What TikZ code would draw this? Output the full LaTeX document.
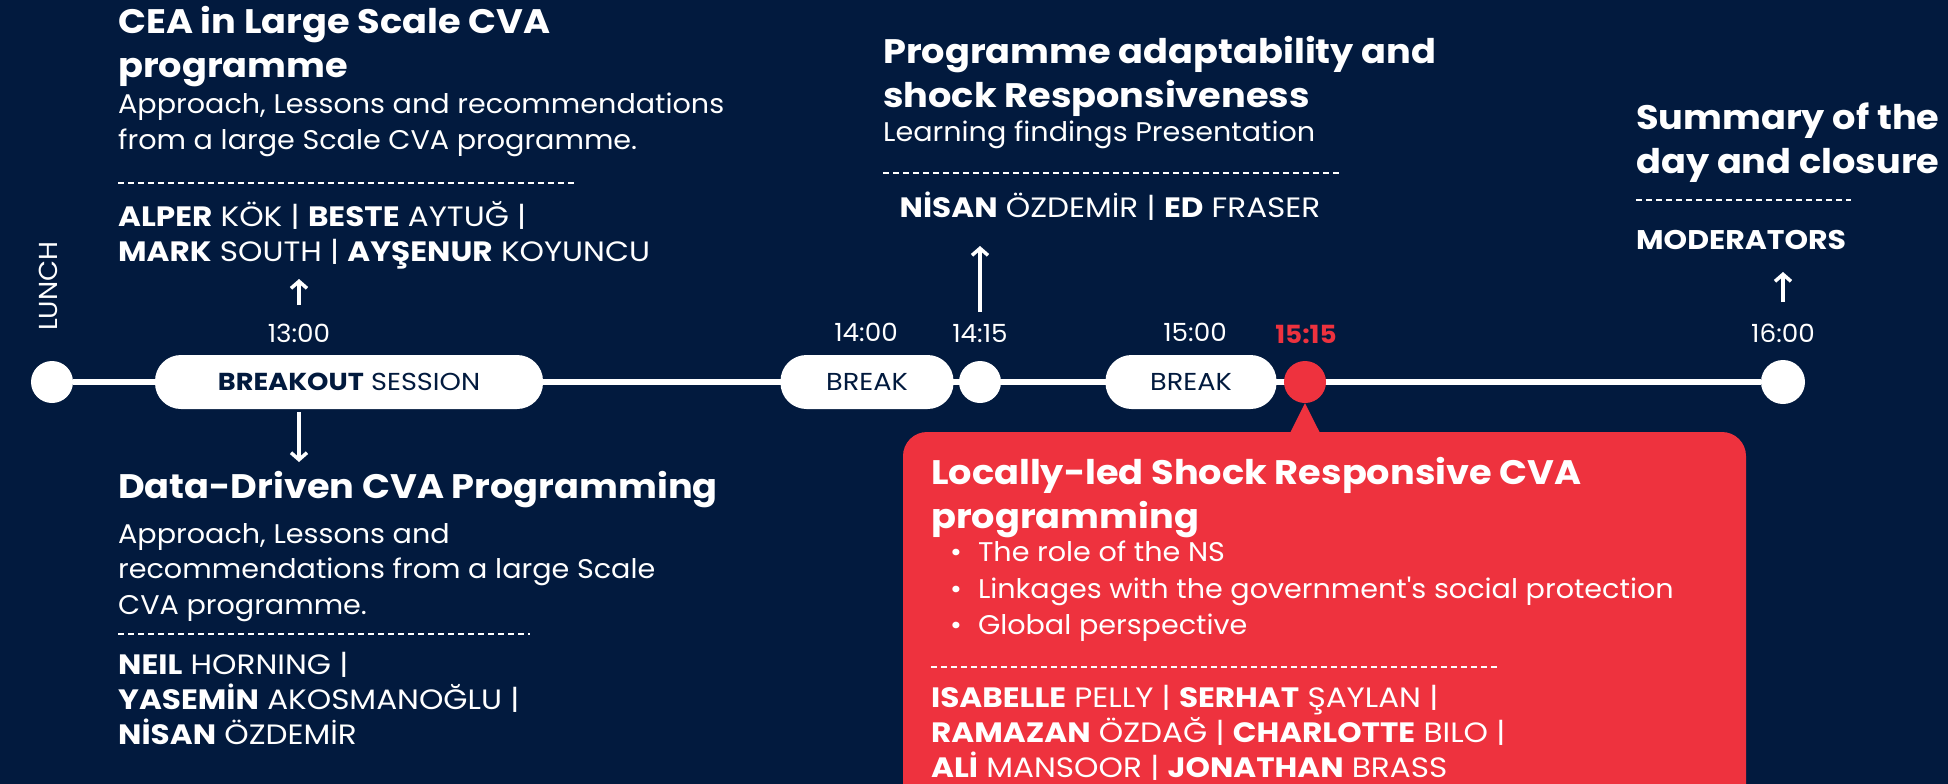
\documentclass[tikz,border=0pt]{standalone}
\usepackage{fontspec}
\setmainfont{Poppins}
\newfontfamily\fttl{Poppins}[FakeStretch=1.08]
\newfontfamily\fbdy{Poppins}[FakeStretch=1.06]
\newfontfamily\fnm{Poppins}[FakeStretch=1.11]
\newfontfamily\ftm{Poppins}[FakeStretch=1.05]
\usetikzlibrary{arrows.meta}
\definecolor{navy}{RGB}{2,26,62}
\definecolor{redbox}{RGB}{238,50,62}
\tikzset{
  txt/.style={anchor=north west, inner sep=0pt, text=white, align=left},
  ttl/.style={txt, font=\fttl\fontsize{34}{44}\selectfont\bfseries},
  bdy/.style={txt, font=\fbdy\fontsize{27}{35.5}\selectfont},
  nms/.style={txt, font=\fnm\fontsize{28}{35}\selectfont},
  tm/.style={inner sep=0pt, text=white, font=\ftm\fontsize{25}{28}\selectfont},
  pill/.style={draw=none, fill=white, rounded corners=26pt, minimum height=54pt, inner sep=0pt, text=navy, font=\fnm\fontsize{24.5}{28}\selectfont},
  dot/.style={circle, fill=white, minimum size=42pt, inner sep=0pt},
  sep/.style={draw=white, line width=1.6pt, dash pattern=on 6pt off 4pt},
  upar/.style={draw=white, line width=3.5pt, -{Straight Barb[length=7pt,width=16pt]}},
  tl/.style={draw=white, line width=6pt}
}
\begin{document}
\begin{tikzpicture}[x=1pt,y=-1pt]
\fill[navy] (0,0) rectangle (1948,784);
\useasboundingbox (0,0) rectangle (1948,784);

% timeline
\node[dot] (lunch) at (52,382) {};
\node[dot, minimum size=44pt] (end) at (1783,382) {};
\draw[tl] (lunch) -- (end);
\node[pill, minimum width=388pt] (breakout) at (349,382) {\textbf{BREAKOUT} SESSION};
\node[pill, minimum width=173pt] (break1) at (867,382) {BREAK};
\node[dot] (d1415) at (980,382) {};
\node[pill, minimum width=171pt] (break2) at (1191,382) {BREAK};
\node[dot, fill=redbox] (red) at (1305,382) {};

\node[txt, rotate=90, anchor=north west, font=\ftm\fontsize{26}{28}\selectfont] (lunchlbl) at (39,331) {LUNCH};

% times
\node[tm] (t1300) at (299,333) {13:00};
\node[tm] (t1400) at (866,332) {14:00};
\node[tm] (t1415) at (980,334) {14:15};
\node[tm] (t1500) at (1195,332) {15:00};
\node[tm, text=redbox] (t1515) at (1306,334) {\textbf{15:15}};
\node[tm] (t1600) at (1783,333) {16:00};

% block 1
\node[ttl] (cea) at (118,6) {CEA in Large Scale CVA\\programme};
\node[bdy] (ceab) at (118,93) {Approach, Lessons and recommendations\\from a large Scale CVA programme.};
\coordinate (s1a) at (118,183); \coordinate (s1b) at (575,183);
\draw[sep] (s1a) -- (s1b);
\node[nms] (cean) at (118,201) {\textbf{ALPER} KÖK | \textbf{BESTE} AYTUĞ |\\\textbf{MARK} SOUTH | \textbf{AYŞENUR} KOYUNCU};
\coordinate (a1bot) at (299,305); \coordinate (a1top) at (299,279);
\draw[upar] (a1bot) -- (a1top);

% block 2 (down)
\coordinate (a2top) at (299,412); \coordinate (a2bot) at (299,462);
\draw[upar] (a2top) -- (a2bot);
\node[ttl] (ddc) at (118,471) {Data-Driven CVA Programming};
\node[bdy] (ddcb) at (118,523) {Approach, Lessons and\\recommendations from a large Scale\\CVA programme.};
\coordinate (s2a) at (118,634); \coordinate (s2b) at (530,634);
\draw[sep] (s2a) -- (s2b);
\node[nms] (ddcn) at (118,652) {\textbf{NEIL} HORNING |\\\textbf{YASEMİN} AKOSMANOĞLU |\\\textbf{NİSAN} ÖZDEMİR};

% block 3
\node[ttl] (pas) at (883,36) {Programme adaptability and\\shock Responsiveness};
\node[bdy] (pasb) at (883,121) {Learning findings Presentation};
\coordinate (s3a) at (883,173); \coordinate (s3b) at (1340,173);
\draw[sep] (s3a) -- (s3b);
\node[nms, anchor=north] (pasn) at (1110,192) {\textbf{NİSAN} ÖZDEMİR | \textbf{ED} FRASER};
\coordinate (a3bot) at (980,312); \coordinate (a3top) at (980,246);
\draw[upar] (a3bot) -- (a3top);

% block 4
\node[ttl] (sum) at (1636,103) {Summary of the\\day and closure};
\coordinate (s4a) at (1636,200); \coordinate (s4b) at (1851,200);
\draw[sep] (s4a) -- (s4b);
\node[nms, font=\fnm\fontsize{27}{35}\selectfont] (mod) at (1636,230) {\textbf{MODERATORS}};
\coordinate (a4bot) at (1783,302); \coordinate (a4top) at (1783,272);
\draw[upar] (a4bot) -- (a4top);

% red box
\fill[redbox, rounded corners=24pt] (903,432) rectangle (1746,830);
\coordinate (tria) at (1290,433); \coordinate (trib) at (1320,433);
\fill[redbox] (tria) -- (red.south) -- (trib) -- cycle;
\node[ttl] (loc) at (931,457) {Locally-led Shock Responsive CVA\\programming};
\node[bdy, font=\fbdy\fontsize{27}{36.5}\selectfont] (locb) at (950,541) {\textbullet\hspace{16pt}The role of the NS\\\textbullet\hspace{16pt}Linkages with the government's social protection\\\textbullet\hspace{16pt}Global perspective};
\coordinate (s5a) at (931,667); \coordinate (s5b) at (1497,667);
\draw[sep] (s5a) -- (s5b);
\node[nms] (locn) at (931,685) {\textbf{ISABELLE} PELLY | \textbf{SERHAT} ŞAYLAN |\\\textbf{RAMAZAN} ÖZDAĞ | \textbf{CHARLOTTE} BILO |\\\textbf{ALİ} MANSOOR | \textbf{JONATHAN} BRASS};
\end{tikzpicture}
\end{document}
